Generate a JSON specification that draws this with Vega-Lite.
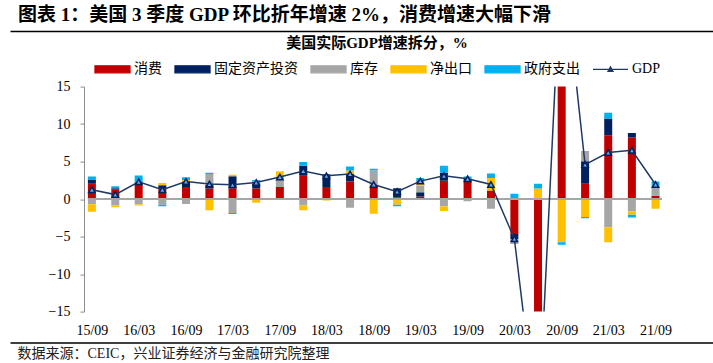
{
  "$schema": "https://vega.github.io/schema/vega-lite/v6.json",
  "width": 713,
  "height": 225,
  "autosize": "none",
  "padding": {"left": 0, "right": 0, "top": 86.6, "bottom": 51.4},
  "background": "white",
  "config": {"view": {"stroke": null}, "font": "Liberation Serif, Noto Sans CJK SC",
    "axisY": {"labelOverlap": false, "labelFlush": false, "labelBound": false}},
  "title": {
    "text": "图表 1：美国 3 季度 GDP 环比折年增速 2%，消费增速大幅下滑",
    "anchor": "start", "frame": "group", "dx": 18, "dy": 20, "offset": 7, "baseline": "bottom",
    "fontSize": 19, "fontWeight": "bold", "font": "Liberation Serif, Noto Sans CJK SC", "color": "black"
  },
  "data": {"values": [
    {"q": "2015-09-01", "消费": 2.05, "固定资产投资": 0.58, "库存": -0.7, "净出口": -1.0, "政府支出": 0.4, "GDP": 1.25},
    {"q": "2015-12-01", "消费": 1.3, "固定资产投资": 0.15, "库存": -0.85, "净出口": -0.25, "政府支出": 0.25, "GDP": 0.6},
    {"q": "2016-03-01", "消费": 2.2, "固定资产投资": 0.05, "库存": -0.7, "净出口": -0.15, "政府支出": 0.9, "GDP": 2.3},
    {"q": "2016-06-01", "消费": 1.4, "固定资产投资": 0.45, "库存": -0.75, "净出口": 0.3, "政府支出": -0.2, "GDP": 1.25},
    {"q": "2016-09-01", "消费": 1.6, "固定资产投资": 0.75, "库存": -0.65, "净出口": 0.2, "政府支出": 0.35, "GDP": 2.35},
    {"q": "2016-12-01", "消费": 1.4, "固定资产投资": 0.5, "库存": 1.45, "净出口": -1.5, "政府支出": 0.15, "GDP": 2.0},
    {"q": "2017-03-01", "消费": 1.45, "固定资产投资": 1.6, "库存": -1.85, "净出口": 0.2, "政府支出": -0.15, "GDP": 1.9},
    {"q": "2017-06-01", "消费": 1.4, "固定资产投资": 0.7, "库存": 0.2, "净出口": -0.5, "政府支出": 0.25, "GDP": 2.2},
    {"q": "2017-09-01", "消费": 1.6, "固定资产投资": 0.0, "库存": 1.35, "净出口": 0.75, "政府支出": 0.0, "GDP": 2.95},
    {"q": "2017-12-01", "消费": 3.1, "固定资产投资": 1.35, "库存": -0.85, "净出口": -0.65, "政府支出": 0.5, "GDP": 3.75},
    {"q": "2018-03-01", "消费": 1.6, "固定资产投资": 1.7, "库存": 0.0, "净出口": -0.2, "政府支出": 0.0, "GDP": 3.1},
    {"q": "2018-06-01", "消费": 2.35, "固定资产投资": 1.0, "库存": -1.15, "净出口": 0.45, "政府支出": 0.55, "GDP": 3.35},
    {"q": "2018-09-01", "消费": 1.5, "固定资产投资": 0.35, "库存": 2.0, "净出口": -1.95, "政府支出": 0.2, "GDP": 1.95},
    {"q": "2018-12-01", "消费": 0.25, "固定资产投资": 1.2, "库存": 0.0, "净出口": -0.75, "政府支出": -0.2, "GDP": 1.0},
    {"q": "2019-03-01", "消费": 0.35, "固定资产投资": 0.55, "库存": 0.9, "净出口": 0.4, "政府支出": 0.6, "GDP": 2.4},
    {"q": "2019-06-01", "消费": 2.45, "固定资产投资": 1.05, "库存": -0.95, "净出口": -0.65, "政府支出": 0.95, "GDP": 3.1},
    {"q": "2019-09-01", "消费": 2.3, "固定资产投资": 0.4, "库存": -0.3, "净出口": 0.0, "政府支出": 0.3, "GDP": 2.7},
    {"q": "2019-12-01", "消费": 1.15, "固定资产投资": 0.0, "库存": -1.3, "净出口": 1.65, "政府支出": 0.6, "GDP": 1.95},
    {"q": "2020-03-01", "消费": -4.65, "固定资产投资": -0.7, "库存": -0.65, "净出口": 0.0, "政府支出": 0.7, "GDP": -5.3},
    {"q": "2020-06-01", "消费": -24.1, "固定资产投资": -5.9, "库存": -3.5, "净出口": 1.4, "政府支出": 0.65, "GDP": -31.4},
    {"q": "2020-09-01", "消费": 25.4, "固定资产投资": 5.3, "库存": 6.6, "净出口": -5.75, "政府支出": -0.35, "GDP": 33.4},
    {"q": "2020-12-01", "消费": 2.05, "固定资产投资": 3.0, "库存": 1.35, "净出口": -2.4, "政府支出": -0.15, "GDP": 4.6},
    {"q": "2021-03-01", "消费": 8.5, "固定资产投资": 2.25, "库存": -3.75, "净出口": -2.0, "政府支出": 0.75, "GDP": 6.2},
    {"q": "2021-06-01", "消费": 8.2, "固定资产投资": 0.6, "库存": -1.65, "净出口": -0.45, "政府支出": -0.35, "GDP": 6.5},
    {"q": "2021-09-01", "消费": 0.4, "固定资产投资": 0.05, "库存": 1.35, "净出口": -1.3, "政府支出": 0.55, "GDP": 1.95}
  ]},
  "resolve": {"axis": {"x": "independent"}},
  "layer": [
    {
      "transform": [
        {"fold": ["消费", "固定资产投资", "库存", "净出口", "政府支出"], "as": ["key", "value"]},
        {"window": [{"op": "row_number", "as": "k"}], "groupby": ["q"]}
      ],
      "mark": {"type": "bar", "width": 8, "clip": true},
      "encoding": {
        "x": {"field": "q", "type": "temporal",
          "scale": {"type": "utc", "domain": [{"year": 2014, "month": 11, "date": 6, "utc": true}, {"year": 2022, "month": 3, "date": 24, "utc": true}], "range": [10, 713]},
          "axis": {"orient": "bottom", "offset": 31, "domainColor": "black", "domainWidth": 1.5, "ticks": false, "grid": false,
            "values": [
              {"year": 2015, "month": 9, "date": 1, "utc": true}, {"year": 2016, "month": 3, "date": 1, "utc": true},
              {"year": 2016, "month": 9, "date": 1, "utc": true}, {"year": 2017, "month": 3, "date": 1, "utc": true},
              {"year": 2017, "month": 9, "date": 1, "utc": true}, {"year": 2018, "month": 3, "date": 1, "utc": true},
              {"year": 2018, "month": 9, "date": 1, "utc": true}, {"year": 2019, "month": 3, "date": 1, "utc": true},
              {"year": 2019, "month": 9, "date": 1, "utc": true}, {"year": 2020, "month": 3, "date": 1, "utc": true},
              {"year": 2020, "month": 9, "date": 1, "utc": true}, {"year": 2021, "month": 3, "date": 1, "utc": true},
              {"year": 2021, "month": 9, "date": 1, "utc": true}],
            "labelExpr": "utcFormat(datum.value, '%y/%m')",
            "labelBaseline": "middle", "labelPadding": -12, "labelFontSize": 14, "labelColor": "black",
            "labelFont": "Liberation Serif", "labelFlush": false, "labelOverlap": false,
            "title": "数据来源：CEIC，兴业证券经济与金融研究院整理",
            "titleX": 17, "titleY": 11, "titleAlign": "left", "titleAnchor": "start", "titleBaseline": "middle",
            "titleFontSize": 14, "titleFontWeight": "normal", "titleColor": "#222222",
            "titleFont": "Liberation Serif, Noto Sans CJK SC"}},
        "y": {"field": "value", "type": "quantitative", "stack": "zero",
          "scale": {"domain": [-15, 15], "nice": false, "zero": false},
          "axis": {"orient": "left", "offset": -84, "values": [-15, -10, -5, 0, 5, 10, 15], "grid": false,
            "domainColor": "#8c8c8c", "tickColor": "#8c8c8c", "tickSize": 4, "labelPadding": 10, "labelOverlap": false,
            "labelFontSize": 14, "labelFont": "Liberation Serif", "labelColor": "black", "title": null}},
        "order": {"field": "k", "type": "quantitative", "sort": "ascending"},
        "color": {"field": "key", "type": "nominal",
          "scale": {"domain": ["消费", "固定资产投资", "库存", "净出口", "政府支出", "GDP"],
                    "range": ["#C00000", "#002060", "#A6A6A6", "#FFC000", "#00B0F0", "#1F3864"]},
          "legend": {
            "orient": "none", "legendX": 94, "legendY": -51, "direction": "horizontal", "columns": 6,
            "title": "美国实际GDP增速拆分，%", "titleAnchor": "middle", "titleFontSize": 15, "titleFontWeight": "bold",
            "titleFont": "Liberation Serif, Noto Sans CJK SC", "titleColor": "black", "titlePadding": 0, "titleLimit": 500,
            "symbolSize": 1225, "labelFontSize": 14, "labelOffset": 3, "columnPadding": 10, "labelLimit": 300,
            "labelFont": "Liberation Serif, Noto Sans CJK SC", "labelColor": "black",
            "encode": {"symbols": {"update": {
              "shape": {"signal": "datum.value === 'GDP' ? 'M-1,0H1M-0.14,0.11L0,-0.14L0.14,0.11Z' : 'M-1,-0.2H1V0.2H-1Z'"},
              "fill": {"signal": "scale('color', datum.value)"},
              "stroke": {"signal": "datum.value === 'GDP' ? scale('color', datum.value) : 'transparent'"},
              "strokeWidth": {"value": 1.3},
              "opacity": {"value": 1}
            }}}
          }}
      }
    },
    {
      "mark": {"type": "rule", "color": "#A6A6A6", "strokeWidth": 2},
      "encoding": {
        "y": {"datum": 0, "type": "quantitative",
          "axis": {"orient": "left", "offset": -84, "values": [-15, -10, -5, 0, 5, 10, 15], "grid": false, "labelOverlap": false, "title": null}},
        "x": {"datum": {"year": 2015, "month": 8, "date": 17, "utc": true}, "type": "temporal", "axis": null},
        "x2": {"datum": {"year": 2021, "month": 9, "date": 25, "utc": true}}
      }
    },
    {
      "mark": {"type": "line", "strokeWidth": 1.5, "clip": true},
      "encoding": {
        "x": {"field": "q", "type": "temporal",
          "axis": {"orient": "top", "offset": 55.6, "labels": false, "ticks": false, "grid": false, "title": null,
                   "domainColor": "black", "domainWidth": 1.5}},
        "y": {"field": "GDP", "type": "quantitative",
          "axis": {"orient": "left", "offset": -84, "values": [-15, -10, -5, 0, 5, 10, 15], "grid": false, "labelOverlap": false, "title": null}},
        "color": {"datum": "GDP", "type": "nominal"}
      }
    },
    {
      "mark": {"type": "point", "shape": "triangle-up", "filled": true, "fill": "#6FA8DC", "stroke": "#002060", "strokeWidth": 1.5, "size": 40, "opacity": 1, "clip": true},
      "encoding": {
        "x": {"field": "q", "type": "temporal", "axis": null},
        "y": {"field": "GDP", "type": "quantitative",
          "axis": {"orient": "left", "offset": -84, "values": [-15, -10, -5, 0, 5, 10, 15], "grid": false, "labelOverlap": false, "title": null}}
      }
    }
  ]
}
